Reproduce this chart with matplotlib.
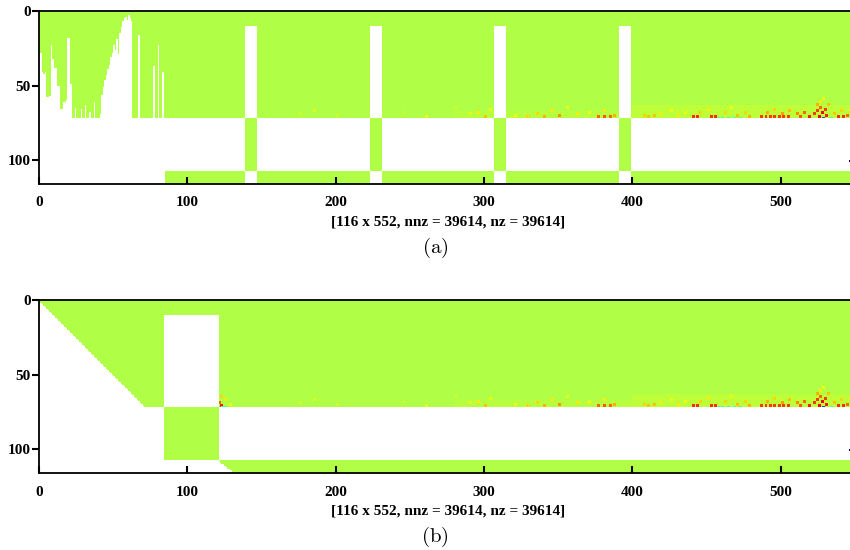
import numpy as np
import matplotlib.pyplot as plt

plt.rcParams['mathtext.fontset'] = 'cm'

n_rows, n_cols = 116, 552
base_val = 0.5625          # jet value giving the yellow-green fill
upper_end = 72             # rows 0..71 hold the upper block
band_top = 107             # rows 107..115 hold the bottom band

# panel (a): fill depth (last filled row) of the first 85 columns
depth_a = [
    27, 27, 40, 41, 40, 57, 57, 56, 22, 31,
    37, 37, 49, 49, 65, 65, 60, 60, 59, 17,
    17, 48, 71, 71, 64, 71, 71, 71, 65, 71,
    71, 62, 71, 71, 67, 71, 71, 60, 71, 71,
    71, 68, 55, 50, 45, 42, 38, 35, 30, 27,
    22, 25, 18, 28, 14, 10, 6, 4, 3, 5,
    2, 4, 6, 71, 71, 71, 71, 15, 71, 71,
    71, 71, 71, 71, 71, 71, 71, 36, 71, 71,
    22, 71, 71, 40, 71,
]
strip_cols_a = [139, 223, 307, 391]
strip_width = 8
strip_top = 10

# panel (b)
block_b = (84, 121)
band_start_b = [121, 122, 123, 125, 126, 127, 129, 130, 131]

# coloured entries (col, row, value)
hot_pts = [
    (175, 68, .60), (185, 66, .62), (200, 69, .60), (245, 67, .60), (260, 70, .63),
    (280, 64, .60), (290, 68, .62), (295, 67, .66), (300, 70, .70), (303, 65, .64),
    (320, 69, .64), (328, 70, .68), (335, 68, .68), (340, 70, .72), (345, 66, .66),
    (350, 69, .75), (355, 64, .64), (362, 68, .66), (370, 67, .64), (376, 70, .80),
    (380, 70, .82), (384, 70, .80), (387, 69, .72), (380, 66, .66),
    (407, 69, .68), (410, 70, .70), (414, 69, .70), (418, 68, .66), (425, 66, .64),
    (430, 69, .66), (435, 67, .64), (440, 70, .86), (443, 70, .86), (452, 70, .86),
    (455, 70, .86), (457, 71, .45), (460, 71, .44), (464, 71, .44), (468, 71, .45),
    (472, 71, .46), (445, 67, .68), (450, 65, .66), (462, 67, .68), (466, 64, .64),
    (470, 69, .70), (475, 67, .68), (478, 70, .72), (486, 70, .85), (489, 70, .85),
    (492, 70, .85), (495, 70, .85), (498, 70, .85), (501, 70, .85), (504, 70, .85),
    (490, 67, .72), (495, 65, .68), (500, 68, .74), (505, 66, .70), (510, 68, .76),
    (512, 70, .82), (515, 67, .80), (518, 70, .88), (522, 68, .85), (524, 66, .85),
    (525, 70, .90), (526, 64, .80), (527, 67, .90), (528, 71, .20), (529, 65, .85),
    (530, 69, .88), (531, 62, .70), (526, 60, .66), (528, 58, .64), (524, 62, .72),
    (533, 71, .45), (535, 68, .70), (538, 70, .86), (541, 70, .86), (544, 69, .80),
    (547, 70, .86), (540, 66, .68), (546, 65, .66), (550, 68, .72),
]
hot_pts_b = [
    (121, 68, .80), (122, 70, .88), (123, 71, .42), (125, 71, .45), (122, 64, .68),
    (125, 66, .66), (128, 69, .64),
]
warm_bands = [(280, 400, 67, 72, 0.572), (400, 552, 63, 72, 0.58)]
dot_cell = (546, 100)      # isolated dark entry near the right edge

# ---- matrix (a)
A = np.full((n_rows, n_cols), np.nan)
for c, d in enumerate(depth_a):
    A[:d + 1, c] = base_val
jag_end = len(depth_a)
A[:upper_end, jag_end:] = base_val
A[band_top:, jag_end:] = base_val
for s in strip_cols_a:
    A[strip_top:upper_end, s:s + strip_width] = np.nan
    A[upper_end:band_top, s:s + strip_width] = base_val
    A[band_top:, s:s + strip_width] = np.nan

# ---- matrix (b)
B = np.full((n_rows, n_cols), np.nan)
upper = np.triu(np.ones((upper_end, n_cols)))
B[:upper_end][upper > 0] = base_val
B[strip_top:upper_end, block_b[0]:block_b[1]] = np.nan
B[upper_end:band_top, block_b[0]:block_b[1]] = base_val
for i, s in enumerate(band_start_b):
    B[band_top + i, s:] = base_val


def add_warm(M):
    for c0, c1, r0, r1, v in warm_bands:
        w = M[r0:r1, c0:c1]
        w[~np.isnan(w)] = v


def add_hot(M, pts):
    for c, r, v in pts:
        for rr in (r, r + 1):
            for cc in (c, c + 1):
                if rr < n_rows and cc < n_cols and not np.isnan(M[rr, cc]):
                    M[rr, cc] = v


for M in (A, B):
    add_warm(M)
    add_hot(M, hot_pts)
    M[dot_cell[1], dot_cell[0]] = 0.02
add_hot(B, hot_pts_b)

cmap = plt.get_cmap('jet').copy()
cmap.set_bad('white')

fig = plt.figure(figsize=(8.5, 5.5), dpi=100)
tick_font = dict(family='Liberation Serif', weight='bold', size=11)

boxes = [(184, A, '(a)', 248), (473, B, '(b)', 537)]
for bottom_px, M, cap, cap_y in boxes:
    ax = fig.add_axes([39 / 850, (550 - bottom_px) / 550, 819 / 850, 173 / 550])
    ax.imshow(np.ma.masked_invalid(M), cmap=cmap, vmin=0, vmax=1, aspect='auto',
              interpolation='nearest', extent=(0, n_cols, n_rows, 0))
    ax.set_xlim(0, n_cols)
    ax.set_ylim(n_rows, 0)
    ax.set_xticks([0, 100, 200, 300, 400, 500])
    ax.set_yticks([0, 50, 100])
    ax.tick_params(axis='y', direction='out', length=5, width=1.5, pad=1)
    ax.tick_params(axis='x', direction='in', length=5, width=1.5, pad=9)
    for lab in ax.get_xticklabels() + ax.get_yticklabels():
        lab.set_fontproperties(tick_font)
    for sp in ax.spines.values():
        sp.set_linewidth(1.3)
    ax.set_xlabel('[116 x 552, nnz = 39614, nz = 39614]', fontdict=tick_font, labelpad=4)
    fig.text(435 / 850, 1 - cap_y / 550, r'$\mathrm{' + cap + '}$', fontsize=15,
             ha='center', va='center')

fig.savefig('out.png', dpi=100)
